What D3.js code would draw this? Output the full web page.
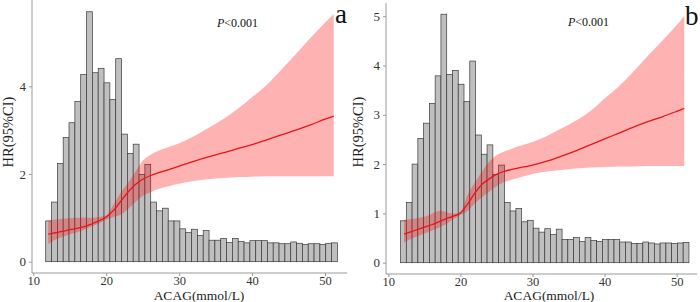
<!DOCTYPE html>
<html><head><meta charset="utf-8">
<script src="https://cdn.jsdelivr.net/npm/d3@7"></script>
<style>body{margin:0;background:#fff}svg{display:block}text{font-family:"Liberation Serif","Times New Roman",serif}</style>
</head><body>
<svg id="c" width="700" height="302"></svg>
<script>
// ---- data ----
const binStart = 11.7, binWidth = 0.8;
const histA = [0.93,1.36,2.24,2.83,3.17,3.65,4.27,5.70,4.31,4.41,4.08,3.70,4.63,2.91,2.47,2.68,1.99,2.22,1.36,1.16,1.22,0.93,0.93,0.75,0.67,
  0.74,0.60,0.71,0.49,0.49,0.53,0.44,0.53,0.46,0.43,0.48,0.48,0.48,0.43,0.43,0.41,0.41,0.45,0.42,0.39,0.41,0.41,0.39,0.42,0.43];
const histB = [0.85,1.22,2.00,2.52,2.83,3.23,3.79,5.04,3.82,3.90,3.62,3.27,4.09,2.59,2.20,2.39,1.79,1.98,1.22,1.05,1.10,0.83,0.86,0.70,0.62,
  0.69,0.57,0.68,0.47,0.47,0.51,0.43,0.51,0.45,0.43,0.47,0.47,0.47,0.42,0.42,0.39,0.39,0.42,0.40,0.38,0.40,0.40,0.39,0.40,0.41];
const xA  = [12.05,13,14,15,16,17,18,19,20,21,22,23,24,25,26,27,28,30,32,34,36,38,40,42,44,46,48,50,51.2];
const hrA = [0.63,0.66,0.69,0.73,0.76,0.80,0.86,0.93,1.02,1.17,1.38,1.59,1.76,1.88,1.96,2.02,2.07,2.18,2.29,2.39,2.48,2.58,2.67,2.78,2.89,3.00,3.12,3.25,3.32];
const upA = [0.93,0.96,0.98,0.99,1.00,1.01,1.00,1.02,1.06,1.30,1.58,1.80,2.05,2.30,2.43,2.52,2.58,2.70,2.86,3.05,3.25,3.48,3.75,4.03,4.38,4.73,5.10,5.45,5.65];
const loA = [0.40,0.50,0.57,0.62,0.67,0.73,0.80,0.87,0.96,1.02,1.07,1.20,1.36,1.50,1.58,1.65,1.70,1.78,1.84,1.88,1.91,1.93,1.94,1.95,1.95,1.95,1.95,1.95,1.95];
const xB  = [12.18,13,14,15,16,17,18,19,20,21,22,23,24,25,26,27,28,30,32,34,36,38,40,42,44,46,48,50,51.05];
const hrB = [0.58,0.62,0.67,0.72,0.77,0.83,0.89,0.94,1.01,1.19,1.41,1.59,1.70,1.79,1.85,1.89,1.92,1.98,2.06,2.16,2.27,2.39,2.51,2.63,2.75,2.86,2.96,3.07,3.13];
const upB = [0.87,0.88,0.90,0.93,0.99,1.05,1.03,1.00,1.03,1.38,1.62,1.85,2.05,2.18,2.25,2.30,2.36,2.45,2.57,2.72,2.88,3.07,3.33,3.58,3.88,4.20,4.50,4.82,5.01];
const loB = [0.41,0.47,0.53,0.59,0.65,0.71,0.78,0.88,0.97,1.05,1.20,1.33,1.44,1.55,1.63,1.68,1.72,1.80,1.85,1.88,1.91,1.93,1.94,1.95,1.95,1.96,1.96,1.96,1.96];
const xTicks = [10,20,30,40,50];
const yTicksA = [0,2,4];
const yTicksB = [0,1,2,3,4,5];
const pText = "<0.001";
const xTitle = "ACAG(mmol/L)", yTitle = "HR(95%CI)";

// ---- layout ----
const panels = [
  {hist:histA, xs:xA, hr:hrA, up:upA, lo:loA, yTicks:yTicksA, letter:"a",
   xr:[33.3,325], yd:[0,4], yr:[261.7,86.3], frameL:32, frameR:347, frameB:273, frameT:0,
   pX:237.5, pY:27, letX:335, letY:23, ytX:12.7, xtX:199},
  {hist:histB, xs:xB, hr:hrB, up:upB, lo:loB, yTicks:yTicksB, letter:"b",
   xr:[388.3,676.7], yd:[0,5], yr:[262.7,16.2], frameL:386, frameR:697, frameB:274, frameT:3,
   pX:588.5, pY:26, letX:685, letY:25, ytX:363, xtX:549}
];

const svg = d3.select("#c");
const axisCol = "#9a9a9a";
const serif = '"Liberation Serif","Times New Roman",serif';

panels.forEach(p => {
  const x = d3.scaleLinear().domain([10,50]).range(p.xr);
  const y = d3.scaleLinear().domain(p.yd).range(p.yr);
  const g = svg.append("g");

  // histogram
  g.selectAll("rect.bar").data(p.hist).join("rect")
    .attr("x", (d,i) => x(binStart + i*binWidth))
    .attr("width", (d,i) => x(binStart + (i+1)*binWidth) - x(binStart + i*binWidth))
    .attr("y", d => y(d))
    .attr("height", d => y(0) - y(d))
    .attr("fill", "#bfbfbf").attr("stroke", "#3a3a3a").attr("stroke-width", 0.7);

  const pts = p.xs.map((v,i) => ({x:v, hr:p.hr[i], up:p.up[i], lo:p.lo[i]}));
  const area = d3.area().x(d => x(d.x)).y0(d => y(d.lo)).y1(d => y(d.up)).curve(d3.curveCatmullRom.alpha(0.5));
  g.append("path").datum(pts).attr("d", area).attr("fill", "#ff0000").attr("fill-opacity", 0.3);
  const line = d3.line().x(d => x(d.x)).y(d => y(d.hr)).curve(d3.curveCatmullRom.alpha(0.5));
  g.append("path").datum(pts).attr("d", line).attr("fill", "none").attr("stroke", "#e8141c").attr("stroke-width", 1.3);

  // frame lines
  g.append("line").attr("x1", p.frameL).attr("x2", p.frameL).attr("y1", p.frameT).attr("y2", p.frameB)
    .attr("stroke", axisCol).attr("stroke-width", 1);
  g.append("line").attr("x1", p.frameL).attr("x2", p.frameR).attr("y1", p.frameB).attr("y2", p.frameB)
    .attr("stroke", axisCol).attr("stroke-width", 1);

  // axes
  const ax = g.append("g").attr("transform", `translate(0,${p.frameB})`)
    .call(d3.axisBottom(x).tickValues(xTicks).tickFormat(d3.format("d")).tickSize(3).tickPadding(0))
    .attr("font-family", serif).attr("font-size", 12.5);
  ax.select(".domain").remove();
  ax.selectAll("line").attr("stroke", axisCol);
  ax.selectAll("text").attr("fill", "#333");

  const ay = g.append("g").attr("transform", `translate(${p.frameL},0)`)
    .call(d3.axisLeft(y).tickValues(p.yTicks).tickFormat(d3.format("d")).tickSize(3).tickPadding(3))
    .attr("font-family", serif).attr("font-size", 13);
  ay.select(".domain").remove();
  ay.selectAll("line").attr("stroke", axisCol);
  ay.selectAll("text").attr("fill", "#333");

  // titles
  g.append("text").attr("x", p.xtX).attr("y", 299.5).attr("text-anchor", "middle")
    .attr("font-size", 13.5).attr("fill", "#222").text(xTitle);
  g.append("text").attr("transform", `translate(${p.ytX},132) rotate(-90)`).attr("text-anchor", "middle")
    .attr("font-size", 14.5).attr("fill", "#222").text(yTitle);

  const pt = g.append("text").attr("x", p.pX).attr("y", p.pY).attr("text-anchor", "middle")
    .attr("font-size", 12).attr("fill", "#111");
  pt.append("tspan").attr("font-style", "italic").text("P");
  pt.append("tspan").text(pText);

  g.append("text").attr("x", p.letX).attr("y", p.letY).attr("font-size", 27).attr("fill", "#111").text(p.letter);
});
</script>
</body></html>
